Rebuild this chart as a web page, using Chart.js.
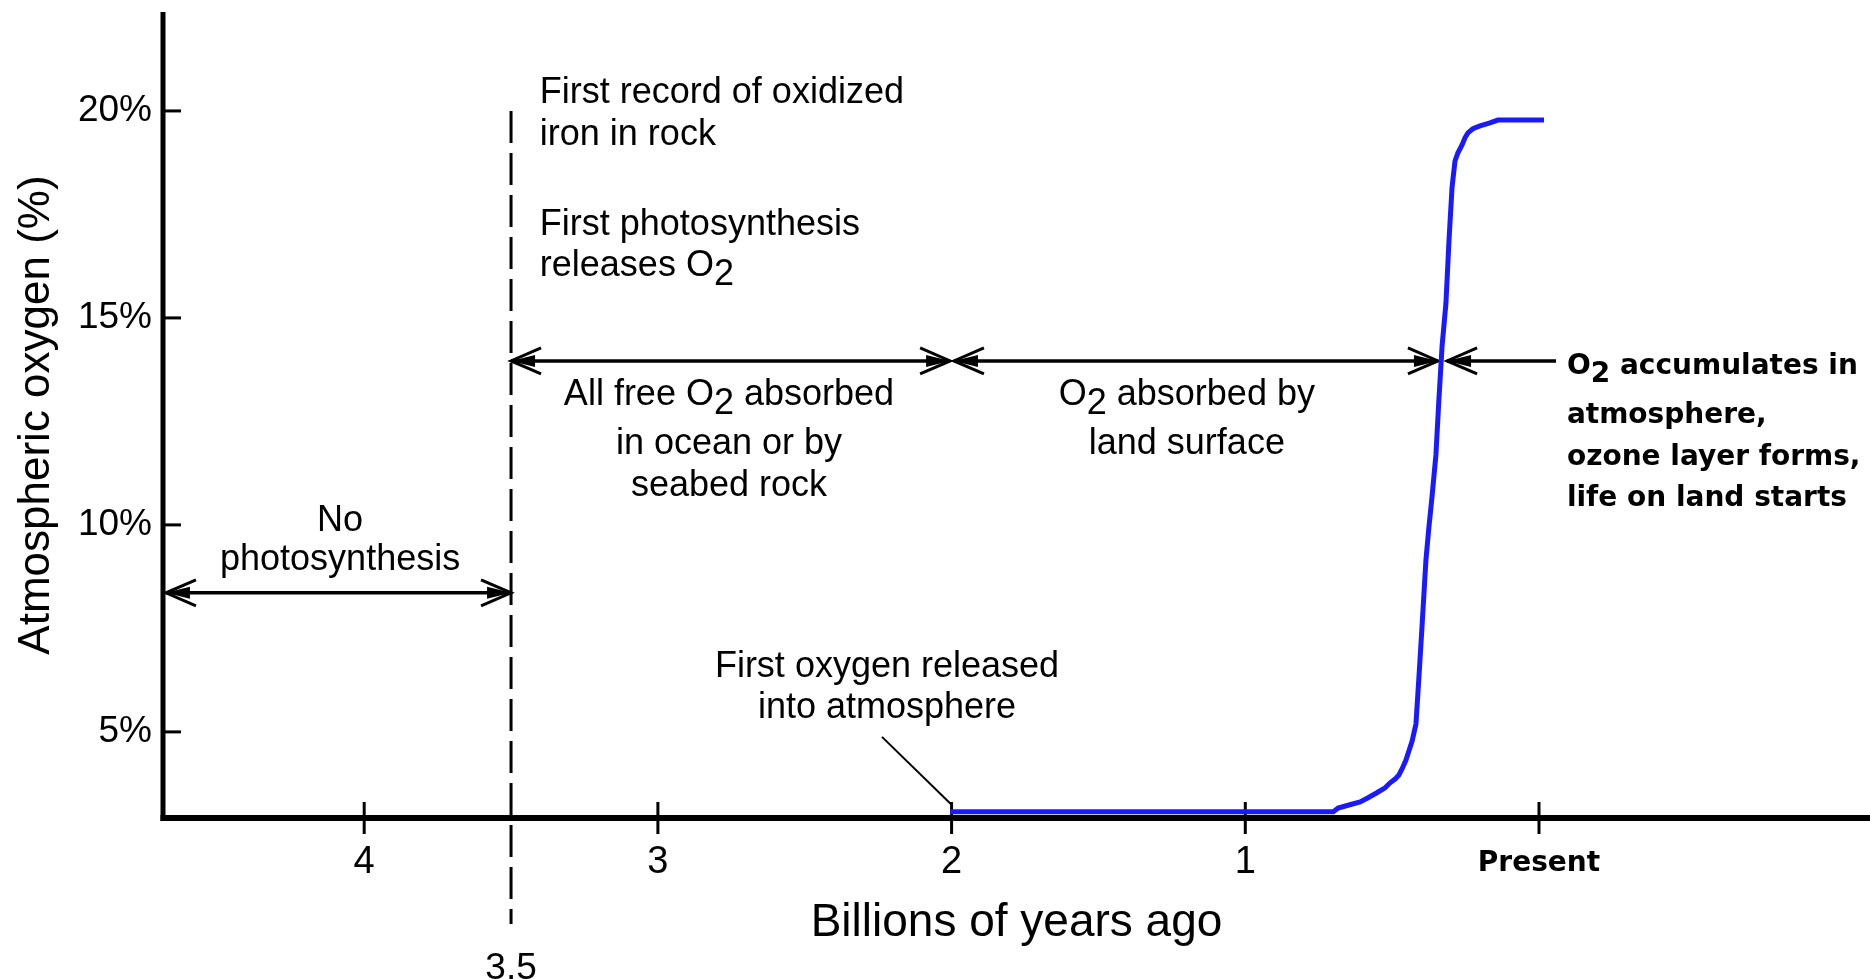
<!DOCTYPE html>
<html>
<head>
<meta charset="utf-8">
<title>Atmospheric oxygen through time</title>
<script src="https://cdn.jsdelivr.net/npm/chart.js@4.4.1/dist/chart.umd.min.js"></script>
<style>
  html, body { margin: 0; padding: 0; background: #fff; }
  canvas { display: block; }
</style>
</head>
<body>
<canvas id="oxygenChart" width="1870" height="979"></canvas>
<script>
// --- data ---
// billions of years ago (x) and atmospheric oxygen in % (y)
const ageBillions = [2.005, 0.70, 0.684, 0.644, 0.609, 0.582, 0.552, 0.524, 0.507, 0.490, 0.477,
  0.466, 0.453, 0.443, 0.432, 0.419, 0.409, 0.398, 0.385, 0.375, 0.364,
  0.351, 0.341, 0.330, 0.317, 0.306, 0.296, 0.286, 0.276, 0.262, 0.252,
  0.242, 0.225, 0.201, 0.167, 0.140, -0.017];
const oxygenPct = [3.07, 3.07, 3.16, 3.24, 3.31, 3.41, 3.53, 3.65, 3.77, 3.86, 3.96,
  4.11, 4.32, 4.54, 4.78, 5.19, 6.30, 7.58, 9.15, 9.93, 10.70,
  11.69, 13.00, 14.32, 15.34, 16.93, 18.16, 18.79, 18.99, 19.18, 19.35,
  19.47, 19.57, 19.64, 19.71, 19.78, 19.78];

const xTickValues = [4, 3, 2, 1, 0];
const xTickLabels = ['4', '3', '2', '1', 'Present'];
const yTickValues = [5, 10, 15, 20];

// --- annotations (x in billions of years, y in %) ---
const SANS = '"Liberation Sans", Arial, sans-serif';
const BLOCK = '"DejaVu Sans", Verdana, sans-serif';

const notes = [
  { text: 'First record of oxidized', x: 3.402, y: 20.19, align: 'left' },
  { text: 'iron in rock', x: 3.402, y: 19.18, align: 'left' },
  { text: 'First photosynthesis', x: 3.402, y: 17.00, align: 'left' },
  { text: 'releases O_2', x: 3.402, y: 16.01, align: 'left' },
  { text: 'No', x: 4.082, y: 9.86, align: 'center' },
  { text: 'photosynthesis', x: 4.082, y: 8.91, align: 'center' },
  { text: 'All free O_2 absorbed', x: 2.758, y: 12.90, align: 'center' },
  { text: 'in ocean or by', x: 2.758, y: 11.72, align: 'center' },
  { text: 'seabed rock', x: 2.758, y: 10.70, align: 'center' },
  { text: 'O_2 absorbed by', x: 1.199, y: 12.90, align: 'center' },
  { text: 'land surface', x: 1.199, y: 11.72, align: 'center' },
  { text: 'First oxygen released', x: 2.220, y: 6.33, align: 'center' },
  { text: 'into atmosphere', x: 2.220, y: 5.34, align: 'center' },
  { text: 'O_2 accumulates in', x: -0.095, y: 13.64, align: 'left', bold: true },
  { text: 'atmosphere,', x: -0.095, y: 12.47, align: 'left', bold: true },
  { text: 'ozone layer forms,', x: -0.095, y: 11.44, align: 'left', bold: true },
  { text: 'life on land starts', x: -0.095, y: 10.45, align: 'left', bold: true }
];

// double arrows: [from, to, level]; heads point outward
const arrowSpans = [
  { from: 4.675, to: 3.5, y: 8.36, heads: 'both' },
  { from: 3.5, to: 2.005, y: 13.96, heads: 'both' },
  { from: 1.992, to: 0.344, y: 13.96, heads: 'both' },
  { from: 0.313, to: -0.058, y: 13.96, heads: 'left' }
];

function line(ctx, x1, y1, x2, y2) {
  ctx.beginPath();
  ctx.moveTo(x1, y1);
  ctx.lineTo(x2, y2);
  ctx.stroke();
}

function arrowHead(ctx, tx, ty, dir) {
  // dir = -1 points left, 1 points right
  ctx.beginPath();
  ctx.moveTo(tx, ty);
  ctx.lineTo(tx - dir * 24, ty - 6);
  ctx.lineTo(tx - dir * 24, ty + 6);
  ctx.closePath();
  ctx.fill();
  ctx.lineWidth = 3;
  ctx.beginPath();
  ctx.moveTo(tx - dir * 30, ty - 13);
  ctx.lineTo(tx, ty);
  ctx.lineTo(tx - dir * 30, ty + 13);
  ctx.stroke();
}

// text with "_2" style subscripts
function drawRich(ctx, text, x, y, align, font, subDrop) {
  const parts = text.split(/_(\d)/);
  ctx.font = font;
  const total = parts.reduce((w, p) => w + ctx.measureText(p).width, 0);
  let cx = align === 'center' ? x - total / 2 : x;
  ctx.textAlign = 'left';
  parts.forEach((p, i) => {
    ctx.fillText(p, cx, i % 2 ? y + subDrop : y);
    cx += ctx.measureText(p).width;
  });
}

const ink = {
  id: 'ink',
  beforeDatasetsDraw(chart) {
    const { ctx, chartArea: a, scales: { x, y } } = chart;
    ctx.save();
    ctx.strokeStyle = '#000';
    ctx.fillStyle = '#000';

    // axes
    ctx.lineWidth = 5;
    line(ctx, a.left, a.top, a.left, a.bottom + 3);
    ctx.lineWidth = 6;
    line(ctx, a.left - 2.5, a.bottom, a.right, a.bottom);

    // tick marks: inward on y, crossing on x
    ctx.lineWidth = 3;
    yTickValues.forEach(v => {
      const py = y.getPixelForValue(v);
      line(ctx, a.left, py, a.left + 18, py);
    });
    xTickValues.forEach(v => {
      const px = x.getPixelForValue(v);
      line(ctx, px, a.bottom - 16, px, a.bottom + 16);
    });

    // dashed marker at 3.5
    const px35 = x.getPixelForValue(3.5);
    ctx.setLineDash([32, 10]);
    ctx.lineWidth = 3;
    line(ctx, px35, y.getPixelForValue(20), px35, y.getPixelForValue(0.36));
    ctx.setLineDash([]);

    // span arrows
    arrowSpans.forEach(s => {
      const x1 = x.getPixelForValue(s.from);
      const x2 = x.getPixelForValue(s.to);
      const py = y.getPixelForValue(s.y);
      ctx.lineWidth = 3.5;
      line(ctx, x1, py, x2, py);
      arrowHead(ctx, x1, py, -1);
      if (s.heads === 'both') arrowHead(ctx, x2, py, 1);
    });

    // leader to first oxygen
    ctx.lineWidth = 2;
    line(ctx, x.getPixelForValue(2.237), y.getPixelForValue(4.88),
      x.getPixelForValue(2.0), y.getPixelForValue(3.24));
    ctx.restore();
  },
  afterDraw(chart) {
    const { ctx, scales: { x, y } } = chart;
    ctx.save();
    ctx.fillStyle = '#000';
    ctx.textBaseline = 'alphabetic';
    notes.forEach(n => {
      const font = n.bold ? 'bold 28px ' + BLOCK : '36px ' + SANS;
      drawRich(ctx, n.text, x.getPixelForValue(n.x), y.getPixelForValue(n.y), n.align, font, n.bold ? 8 : 9);
    });
    // label under the dashed marker
    ctx.font = '37px ' + SANS;
    ctx.textAlign = 'center';
    ctx.fillText('3.5', x.getPixelForValue(3.5), y.getPixelForValue(-0.97));
    ctx.restore();
  }
};

const points = ageBillions.map((a, i) => ({ x: a, y: oxygenPct[i] }));

new Chart(document.getElementById('oxygenChart'), {
  type: 'line',
  data: {
    datasets: [{
      label: 'Atmospheric oxygen',
      data: points,
      borderColor: '#1a1aff',
      borderWidth: 5,
      pointRadius: 0,
      tension: 0,
      fill: false
    }]
  },
  options: {
    responsive: false,
    animation: false,
    devicePixelRatio: 1,
    layout: { padding: { top: 12, left: 0, right: 0, bottom: 0 } },
    plugins: { legend: { display: false }, tooltip: { enabled: false } },
    scales: {
      x: {
        type: 'linear',
        reverse: true,
        min: -1.127,
        max: 4.685,
        afterBuildTicks: s => { s.ticks = xTickValues.map(v => ({ value: v })); },
        afterFit: s => { s.height = 161; s.paddingLeft = 0; s.paddingRight = 0; },
        grid: { display: false },
        border: { display: false },
        ticks: {
          autoSkip: false,
          maxRotation: 0,
          padding: 14,
          color: '#000',
          font: c => (c.tick && c.tick.value === 0)
            ? { family: BLOCK, size: 28, weight: 'bold', lineHeight: 1.7 }
            : { family: SANS, size: 38 },
          callback: v => xTickLabels[xTickValues.indexOf(v)]
        },
        title: {
          display: true,
          text: 'Billions of years ago',
          color: '#000',
          font: { family: SANS, size: 46 },
          padding: { top: 0, bottom: 28 }
        }
      },
      y: {
        type: 'linear',
        min: 2.92,
        max: 22.39,
        afterBuildTicks: s => { s.ticks = yTickValues.map(v => ({ value: v })); },
        afterFit: s => { s.width = 163; s.paddingTop = 0; s.paddingBottom = 0; },
        grid: { display: false },
        border: { display: false },
        ticks: {
          padding: 3,
          color: '#000',
          font: { family: SANS, size: 37 },
          callback: v => v + '%'
        },
        title: {
          display: true,
          text: 'Atmospheric oxygen (%)',
          color: '#000',
          font: { family: SANS, size: 44 },
          padding: { top: 10, bottom: 0 }
        }
      }
    }
  },
  plugins: [ink]
});
</script>
</body>
</html>
